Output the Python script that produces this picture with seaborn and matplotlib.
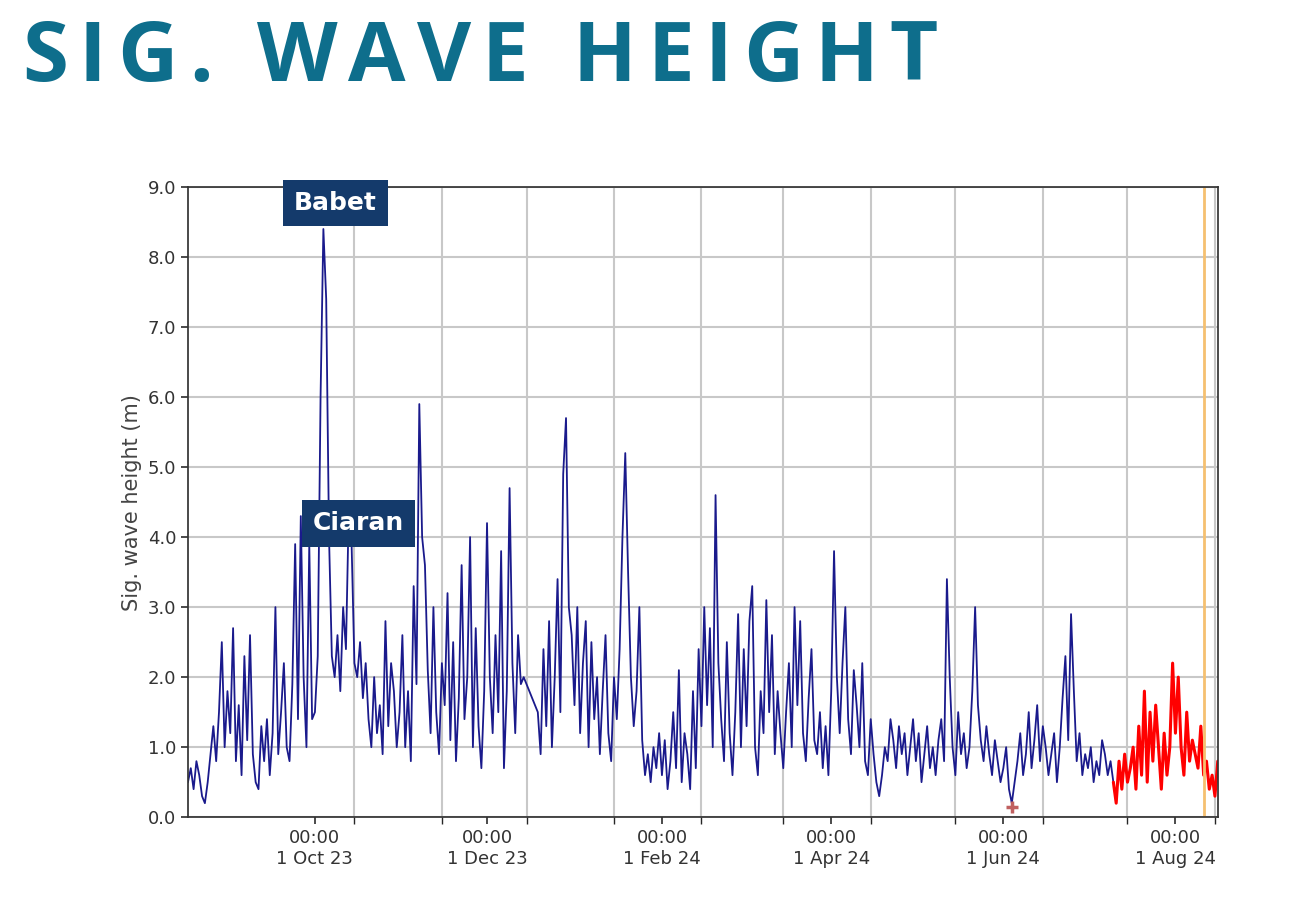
import matplotlib
matplotlib.use("Agg")
import matplotlib.pyplot as plt
import matplotlib.dates as mdates
import seaborn as sns
import pandas as pd
import numpy as np

aug23 = [0.5,0.7,0.4,0.8,0.6,0.3,0.2,0.5,0.9,1.3,0.8,1.5,2.5,1.0,1.8]
sep23 = [1.2,2.7,0.8,1.6,0.6,2.3,1.1,2.6,0.9,0.5,0.4,1.3,0.8,1.4,0.6,1.2,3.0,0.9,1.5,2.2,1.0,0.8,1.9,3.9,1.4,4.3,2.0,1.0,3.9,1.4]
oct23 = [1.5,2.3,6.0,8.4,7.4,4.0,2.3,2.0,2.6,1.8,3.0,2.4,4.4,3.9,2.2,2.0,2.5,1.7,2.2,1.4,1.0,2.0,1.2,1.6,0.9,2.8,1.3,2.2,1.8,1.0,1.5]
nov23 = [2.6,1.0,1.8,0.8,3.3,1.9,5.9,4.0,3.6,2.1,1.2,3.0,1.5,0.9,2.2,1.6,3.2,1.1,2.5,0.8,1.7,3.6,1.4,2.0,4.0,1.0,2.7,1.3,0.7,1.8]
dec23 = [4.2,2.0,1.2,2.6,1.5,3.8,0.7,1.8,4.7,2.2,1.2,2.6,1.9,2.0,1.9,1.8,1.7,1.6,1.5,0.9,2.4,1.3,2.8,1.0,2.0,3.4,1.5,4.9,5.7,3.0,2.6]
jan24 = [1.6,3.0,1.2,2.2,2.8,1.0,2.5,1.4,2.0,0.9,1.8,2.6,1.2,0.8,2.0,1.4,2.4,4.0,5.2,3.5,2.0,1.3,1.8,3.0,1.1,0.6,0.9,0.5,1.0,0.7,1.2]
feb24 = [0.6,1.1,0.4,0.8,1.5,0.7,2.1,0.5,1.2,0.9,0.4,1.8,0.7,2.4,1.3,3.0,1.6,2.7,1.0,4.6,2.2,1.4,0.8,2.5,1.2,0.6,1.5,2.9,1.0]
mar24 = [2.4,1.3,2.8,3.3,1.0,0.6,1.8,1.2,3.1,1.5,2.6,0.9,1.8,1.2,0.7,1.5,2.2,1.0,3.0,1.6,2.8,1.2,0.8,1.7,2.4,1.1,0.9,1.5,0.7,1.3,0.6]
apr24 = [1.8,3.8,2.0,1.2,2.2,3.0,1.4,0.9,2.1,1.6,1.0,2.2,0.8,0.6,1.4,0.9,0.5,0.3,0.6,1.0,0.8,1.4,1.1,0.7,1.3,0.9,1.2,0.6,1.0,1.4]
may24 = [0.8,1.2,0.5,0.9,1.3,0.7,1.0,0.6,1.1,1.4,0.8,3.4,2.0,1.0,0.6,1.5,0.9,1.2,0.7,1.0,1.8,3.0,1.6,1.1,0.8,1.3,0.9,0.6,1.1,0.8,0.5]
jun24 = [0.7,1.0,0.4,0.2,0.5,0.8,1.2,0.6,0.9,1.5,0.7,1.1,1.6,0.8,1.3,1.0,0.6,0.9,1.2,0.5,1.0,1.7,2.3,1.1,2.9,1.8,0.8,1.2,0.6,0.9]
jul24_blue = [0.7,1.0,0.5,0.8,0.6,1.1,0.9,0.6,0.8,0.5]
red_recent = [0.5,0.2,0.8,0.4,0.9,0.5,0.7,1.0,0.4,1.3,0.6,1.8,0.5,1.5,0.8,1.6,1.0,0.4,1.2,0.6,1.0,2.2,
              1.2,2.0,1.0,0.6,1.5,0.8,1.1,0.9,0.7,1.3,0.6,0.8,0.4,0.6,0.3,0.8]
min_marker_date, min_marker_val = "2024-06-04", 0.15
now_line = "2024-08-11"
x_ticks = ["2023-10-01","2023-12-01","2024-02-01","2024-04-01","2024-06-01","2024-08-01"]
x_ticklabels = ["00:00\n1 Oct 23","00:00\n1 Dec 23","00:00\n1 Feb 24","00:00\n1 Apr 24","00:00\n1 Jun 24","00:00\n1 Aug 24"]
title = "SIG. WAVE HEIGHT"

blue_vals = aug23+sep23+oct23+nov23+dec23+jan24+feb24+mar24+apr24+may24+jun24+jul24_blue
blue = pd.DataFrame({"date": pd.date_range("2023-08-17", periods=len(blue_vals), freq="D"), "hs": blue_vals})
red = pd.DataFrame({"date": pd.date_range("2024-07-10", periods=len(red_recent), freq="D"), "hs": red_recent})

sns.set_theme(style="white")
fig = plt.figure(figsize=(12.9, 9.1), dpi=100)
ax = fig.add_axes([0.1457, 0.102, 0.7983, 0.6925])
sns.lineplot(data=blue, x="date", y="hs", color="#1a1a8c", lw=1.3, ax=ax)
sns.lineplot(data=red, x="date", y="hs", color="#ff0000", lw=2.2, ax=ax)
ax.plot(pd.Timestamp(min_marker_date), min_marker_val, marker="+", color="#c06060", ms=9, mew=2.5)
ax.axvline(pd.Timestamp(now_line), color="#f5c070", lw=2)

ax.set_xlim(pd.Timestamp("2023-08-17"), pd.Timestamp("2024-08-16"))
ax.set_ylim(0, 9)
ax.set_yticks(np.arange(0, 9.01, 1))
ax.set_yticklabels([f"{v:.1f}" for v in np.arange(0, 9.01, 1)])
ax.set_xticks([pd.Timestamp(t) for t in x_ticks])
ax.set_xticks(pd.date_range("2023-09-15", "2024-08-15", freq="MS") + pd.Timedelta(days=14), minor=True)
ax.set_xticklabels(x_ticklabels)
ax.grid(False)
ax.grid(True, axis="y", color="#c8c8c8", lw=1.5)
ax.grid(True, axis="x", which="minor", color="#c8c8c8", lw=1.5)
ax.tick_params(axis="both", labelsize=13, colors="#333333", length=5, direction="out", bottom=True, left=True)
ax.tick_params(axis="x", which="minor", length=5, bottom=True)
for s in ax.spines.values():
    s.set_color("#333333")
ax.set_xlabel("")
ax.set_ylabel("Sig. wave height (m)", fontsize=15, color="#444444")

# Title with letter tracking
renderer = fig.canvas.get_renderer()
x = 22
for ch in title:
    t = fig.text(x / 1290, 0.935, ch, fontsize=60, fontweight="bold", color="#0e6e8c",
                 va="center", ha="left", family="Open Sans")
    w = t.get_window_extent(renderer).width if ch != " " else 22
    x += w + 11

box = dict(boxstyle="square,pad=0.45", fc="#143a6b", ec="none")
fig.text(0.260, 0.777, "Babet", fontsize=18, fontweight="bold", color="white", ha="center", va="center", bbox=box)
fig.text(0.278, 0.425, "Ciaran", fontsize=18, fontweight="bold", color="white", ha="center", va="center", bbox=box)

fig.savefig("out.png", dpi=100, facecolor="white")
